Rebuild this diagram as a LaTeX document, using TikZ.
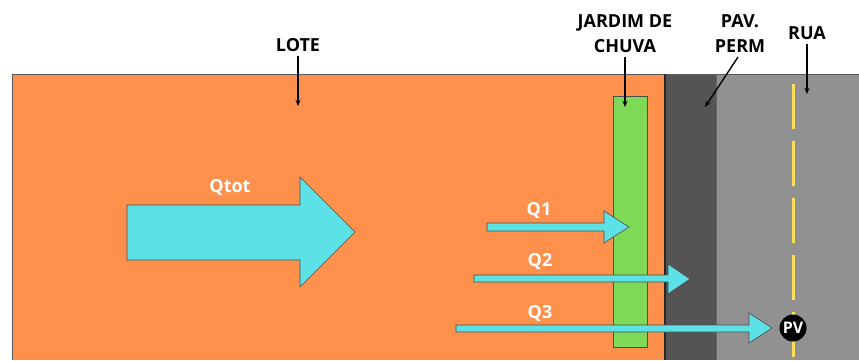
\documentclass[tikz,border=0pt]{standalone}
\usepackage{fontspec}
\setmainfont{Open Sans}
\usetikzlibrary{arrows.meta}
\definecolor{lote}{HTML}{FF914D}
\definecolor{pavperm}{HTML}{545454}
\definecolor{rua}{HTML}{919191}
\definecolor{jardim}{HTML}{7ED957}
\definecolor{fluxo}{HTML}{5CE1E6}
\definecolor{faixa}{HTML}{FFDE59}
\begin{document}
\begin{tikzpicture}[x=1pt,y=-1pt,
  label/.style={font=\fontsize{18}{25}\selectfont\bfseries, text=black, align=center, inner sep=0pt},
  flowlabel/.style={font=\fontsize{18}{20}\selectfont\bfseries, text=white, inner sep=0pt},
  pointer/.style={-{Stealth[length=6pt,width=5pt]}, line width=1.4pt, black},
  flow/.style={fill=fluxo, draw=black!70, line width=0.6pt, line join=miter}]
\useasboundingbox (0,0) rectangle (859,360);
\fill[white] (0,0) rectangle (859,360);

% lot, permeable pavement and street
\fill[lote] (12,74) rectangle (664,360);
\fill[pavperm] (664,74) rectangle (716,360);
\fill[rua] (716,74) rectangle (859,360);
\draw[black!65, line width=0.8pt] (12,360) -- (12,74) -- (859,74);
\draw[black!85, line width=1.2pt] (665,74) -- (665,360);
\draw[black!60, line width=0.6pt] (716,74) -- (716,360);

% centre line of the street
\draw[faixa, line width=3pt, dash pattern=on 45pt off 12pt] (793,84) -- (793,360);

% rain garden
\draw[fill=jardim, draw=black!70, line width=0.7pt] (613,96) rectangle (647,347);

% total runoff
\draw[flow] (127,205) -- (300,205) -- (300,177) -- (355,232) -- (300,287) -- (300,260) -- (127,260) -- cycle;
\node[flowlabel] (qtot) at (230,187) {Qtot};

% partial flows
\draw[flow] (487,223) -- (604,223) -- (604,211) -- (629,227) -- (604,243) -- (604,231) -- (487,231) -- cycle;
\node[flowlabel] (q1) at (539,210) {Q1};
\draw[flow] (474,275) -- (668,275) -- (668,264) -- (690,279) -- (668,294) -- (668,282) -- (474,282) -- cycle;
\node[flowlabel] (q2) at (540,261) {Q2};
\draw[flow] (456,325) -- (749,325) -- (749,313) -- (772,328) -- (749,343) -- (749,332) -- (456,332) -- cycle;
\node[flowlabel] (q3) at (540,313) {Q3};

% collection point
\node[circle, fill=black, minimum size=27pt, inner sep=0pt, text=white,
      font=\fontsize{16}{16}\selectfont\bfseries] (pv) at (793,328) {PV};

% labels and pointers
\node[label] (lblote) at (298,45) {LOTE};
\coordinate (plote) at (298,106);
\draw[pointer] (298,56) -- (plote);

\node[label] (lbjardim) at (625,34) {JARDIM DE\\CHUVA};
\coordinate (pjardim) at (625,107);
\draw[pointer] (625,57) -- (pjardim);

\node[label] (lbpav) at (740,34) {PAV.\\PERM};
\coordinate (ppav) at (705,107);
\draw[pointer] (738,57) -- (ppav);

\node[label] (lbrua) at (807,33) {RUA};
\coordinate (prua) at (807,94);
\draw[pointer] (807,44) -- (prua);
\end{tikzpicture}
\end{document}
